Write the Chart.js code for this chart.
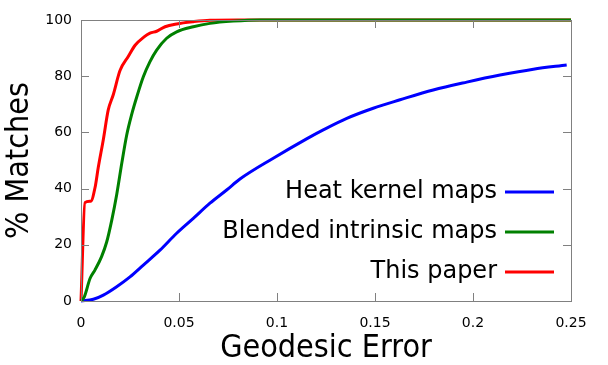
<!DOCTYPE html>
<html>
<head>
<meta charset="utf-8">
<script src="https://cdn.jsdelivr.net/npm/chart.js@4"></script>
<style>
html,body{margin:0;padding:0;background:#fff;}
#wrap{width:608px;height:365px;position:relative;}
</style>
</head>
<body>
<div id="wrap"><canvas id="c" width="608" height="365"></canvas></div>
<script>
// ---- data ----
const seriesLabels = ['Heat kernel maps', 'Blended intrinsic maps', 'This paper'];

const heatX = [0, 0.0063, 0.0114, 0.0182, 0.025, 0.0318, 0.0403, 0.0488, 0.0573, 0.0658, 0.0743, 0.0811, 0.0981, 0.1151, 0.1236, 0.1356, 0.1491, 0.1628, 0.1797, 0.1968, 0.2138, 0.2308, 0.2478];
const heatY = [0, 0.6, 2.1, 5.1, 8.6, 12.8, 18.1, 24.1, 29.4, 34.8, 39.5, 43.4, 50.8, 57.7, 60.9, 65.0, 68.6, 71.6, 75.1, 77.9, 80.4, 82.5, 84.0];

const blendX = [0, 0.0017, 0.0046, 0.0071, 0.0105, 0.0131, 0.0157, 0.0182, 0.0208, 0.0233, 0.0259, 0.0284, 0.0318, 0.0352, 0.0386, 0.0437, 0.0488, 0.0573, 0.0658, 0.0777, 0.0913, 0.12, 0.25];
const blendY = [0, 1.5, 8.0, 11.0, 15.8, 21.0, 28.8, 37.8, 49.0, 59.0, 66.5, 72.5, 79.8, 85.2, 89.3, 93.5, 95.8, 97.6, 98.8, 99.6, 100, 100, 100];

const paperX = [0, 0.002, 0.005, 0.0072, 0.0088, 0.0114, 0.0139, 0.0165, 0.0199, 0.0241, 0.0276, 0.0322, 0.0352, 0.0386, 0.0429, 0.0488, 0.0573, 0.0658, 0.08, 0.1, 0.25];
const paperY = [0, 35.0, 35.5, 40.5, 47.5, 57.5, 68.0, 73.5, 82.0, 87.0, 91.0, 94.0, 95.3, 96.0, 97.6, 98.6, 99.4, 99.9, 100, 100, 100];

const xTickValues = [0, 0.05, 0.1, 0.15, 0.2, 0.25];
const xTickLabels = ['0', '0.05', '0.1', '0.15', '0.2', '0.25'];
const yTickValues = [0, 20, 40, 60, 80, 100];
const yTickLabels = ['0', '20', '40', '60', '80', '100'];

const xTitle = 'Geodesic Error';
const yTitle = '% Matches';

// ---- chart ----
function pts(xs, ys){ return xs.map((x,i)=>({x:x, y:ys[i]})); }

const colors = ['#0000ff', '#008000', '#ff0000'];
const FONT = "'DejaVu Sans', sans-serif";
const TFONT = "'DejaVu Sans Condensed', 'DejaVu Sans', sans-serif";

const framePlugin = {
  id: 'frame',
  afterDatasetsDraw(chart){
    const {ctx, chartArea:a, scales} = chart;
    ctx.save();
    ctx.strokeStyle = '#808080';
    ctx.lineWidth = 1;
    ctx.beginPath();
    const tl = 8;
    xTickValues.forEach(v=>{
      const px = Math.round(scales.x.getPixelForValue(v)) + 0.5;
      ctx.moveTo(px, a.bottom); ctx.lineTo(px, a.bottom - tl);
      ctx.moveTo(px, a.top); ctx.lineTo(px, a.top + tl);
    });
    yTickValues.forEach(v=>{
      const py = Math.round(scales.y.getPixelForValue(v)) + 0.5;
      ctx.moveTo(a.left, py); ctx.lineTo(a.left + tl, py);
      ctx.moveTo(a.right, py); ctx.lineTo(a.right - tl, py);
    });
    ctx.stroke();
    ctx.strokeRect(Math.round(a.left)+0.5, Math.round(a.top)+0.5, Math.round(a.right-a.left), Math.round(a.bottom-a.top));
    ctx.restore();
  },
  afterDraw(chart){
    const {ctx, chartArea:a} = chart;
    ctx.save();
    ctx.font = "24px " + FONT;
    ctx.textAlign = 'right';
    ctx.textBaseline = 'middle';
    ctx.fillStyle = '#000';
    const rows = [192, 232, 272];
    chart.data.datasets.forEach((ds, i)=>{
      const y = rows[i];
      ctx.fillText(ds.label, a.right - 74, y);
      ctx.strokeStyle = ds.borderColor;
      ctx.lineWidth = 3;
      ctx.beginPath();
      ctx.moveTo(a.right - 66, y);
      ctx.lineTo(a.right - 17, y);
      ctx.stroke();
    });
    ctx.restore();
  }
};

new Chart(document.getElementById('c'), {
  type: 'line',
  data: {
    datasets: [
      {label: seriesLabels[0], data: pts(heatX, heatY), borderColor: colors[0], order: 2},
      {label: seriesLabels[1], data: pts(blendX, blendY), borderColor: colors[1], order: 0},
      {label: seriesLabels[2], data: pts(paperX, paperY), borderColor: colors[2], order: 1}
    ].map(d=>Object.assign(d, {borderWidth: 3, pointRadius: 0, cubicInterpolationMode: 'monotone', fill: false, clip: 4}))
  },
  options: {
    responsive: false,
    animation: false,
    layout: {padding: {top: 20, right: 37, left: 0, bottom: 0}},
    plugins: {legend: {display: false}, tooltip: {enabled: false}},
    scales: {
      x: {
        type: 'linear', min: 0, max: 0.25,
        afterBuildTicks: s => { s.ticks = xTickValues.map(v=>({value:v})); },
        afterFit: s => { s.height = 64; },
        grid: {display: false, drawTicks: false},
        border: {display: false},
        ticks: {padding: 14, color: '#000', font: {family: FONT, size: 14}, maxRotation: 0,
                callback: (v) => xTickLabels[xTickValues.indexOf(v)]},
        title: {display: true, text: xTitle, color: '#000', font: {family: TFONT, size: 32, lineHeight: 1}, padding: 0}
      },
      y: {
        type: 'linear', min: 0, max: 100,
        afterBuildTicks: s => { s.ticks = yTickValues.map(v=>({value:v})); },
        afterFit: s => { s.width = 81; },
        grid: {display: false, drawTicks: false},
        border: {display: false},
        ticks: {padding: 9, color: '#000', font: {family: FONT, size: 14},
                callback: (v) => yTickLabels[yTickValues.indexOf(v)]},
        title: {display: true, text: yTitle, color: '#000', font: {family: TFONT, size: 32, lineHeight: 1}, padding: {top: 4, bottom: 0}}
      }
    }
  },
  plugins: [framePlugin]
});
</script>
</body>
</html>
